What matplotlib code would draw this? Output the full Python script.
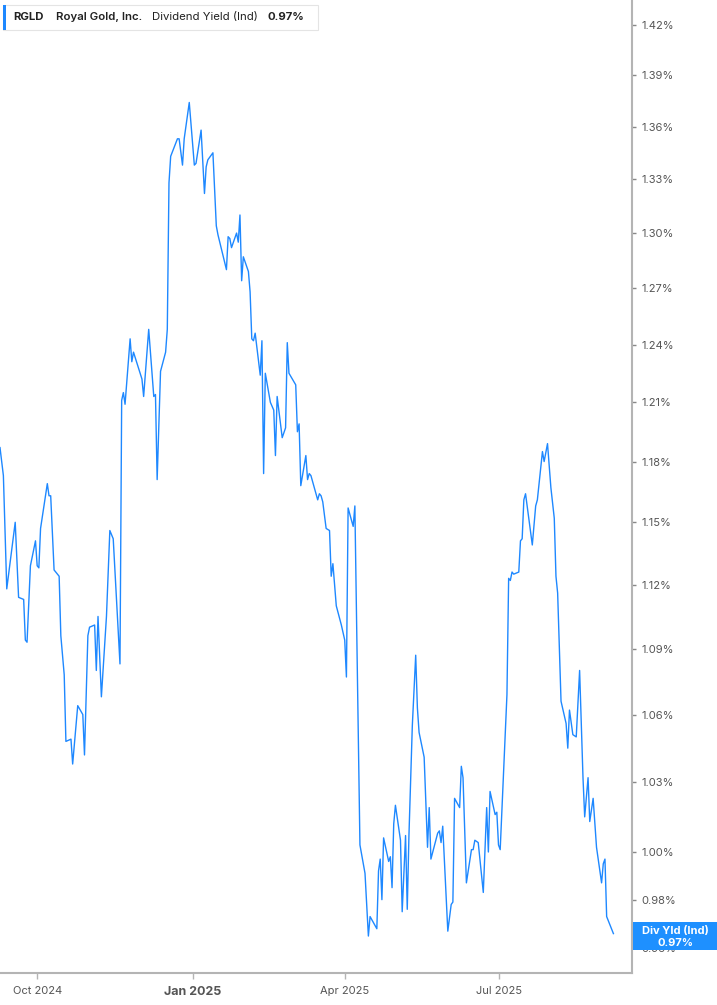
import matplotlib
matplotlib.use("Agg")
import matplotlib.pyplot as plt
import matplotlib.ticker as mticker
from matplotlib.patches import Rectangle
import pandas as pd

plt.rcParams["font.family"] = ["Inter", "DejaVu Sans"]

ticker_symbol = "RGLD"
company_name = "Royal Gold, Inc."
metric_name = "Dividend Yield (Ind)"
metric_short = "Div Yld (Ind)"
last_value_text = "0.97%"

dates = [
    "2024-09-09", "2024-09-11", "2024-09-13", "2024-09-18", "2024-09-20", "2024-09-23",
    "2024-09-24", "2024-09-25", "2024-09-27", "2024-09-30", "2024-10-01", "2024-10-02",
    "2024-10-03", "2024-10-07", "2024-10-08", "2024-10-09", "2024-10-11", "2024-10-14",
    "2024-10-15", "2024-10-17", "2024-10-18", "2024-10-21", "2024-10-22", "2024-10-25",
    "2024-10-28", "2024-10-29", "2024-10-31", "2024-11-01", "2024-11-04", "2024-11-05",
    "2024-11-06", "2024-11-08", "2024-11-11", "2024-11-13", "2024-11-15", "2024-11-19",
    "2024-11-20", "2024-11-21", "2024-11-22", "2024-11-25", "2024-11-26", "2024-11-27",
    "2024-12-02", "2024-12-03", "2024-12-06", "2024-12-09", "2024-12-10", "2024-12-11",
    "2024-12-13", "2024-12-16", "2024-12-17", "2024-12-18", "2024-12-19", "2024-12-23",
    "2024-12-24", "2024-12-26", "2024-12-27", "2024-12-30", "2025-01-02", "2025-01-03",
    "2025-01-06", "2025-01-08", "2025-01-09", "2025-01-10", "2025-01-13", "2025-01-15",
    "2025-01-16", "2025-01-21", "2025-01-22", "2025-01-23", "2025-01-24", "2025-01-27",
    "2025-01-28", "2025-01-29", "2025-01-30", "2025-01-31", "2025-02-03", "2025-02-04",
    "2025-02-05", "2025-02-06", "2025-02-07", "2025-02-10", "2025-02-11", "2025-02-12",
    "2025-02-13", "2025-02-16", "2025-02-18", "2025-02-19", "2025-02-20", "2025-02-23",
    "2025-02-25", "2025-02-26", "2025-02-27", "2025-03-03", "2025-03-04", "2025-03-05",
    "2025-03-06", "2025-03-09", "2025-03-10", "2025-03-11", "2025-03-12", "2025-03-14",
    "2025-03-16", "2025-03-17", "2025-03-18", "2025-03-19", "2025-03-21", "2025-03-23",
    "2025-03-24", "2025-03-25", "2025-03-27", "2025-03-30", "2025-04-01", "2025-04-02",
    "2025-04-03", "2025-04-06", "2025-04-07", "2025-04-10", "2025-04-13", "2025-04-15",
    "2025-04-16", "2025-04-20", "2025-04-21", "2025-04-22", "2025-04-23", "2025-04-24",
    "2025-04-27", "2025-04-28", "2025-04-29", "2025-04-30", "2025-05-01", "2025-05-04",
    "2025-05-05", "2025-05-07", "2025-05-08", "2025-05-09", "2025-05-11", "2025-05-13",
    "2025-05-14", "2025-05-15", "2025-05-18", "2025-05-20", "2025-05-21", "2025-05-22",
    "2025-05-26", "2025-05-27", "2025-05-28", "2025-05-29", "2025-06-01", "2025-06-03",
    "2025-06-04", "2025-06-05", "2025-06-08", "2025-06-09", "2025-06-10", "2025-06-12",
    "2025-06-15", "2025-06-16", "2025-06-17", "2025-06-19", "2025-06-22", "2025-06-24",
    "2025-06-25", "2025-06-26", "2025-06-29", "2025-06-30", "2025-07-01", "2025-07-02",
    "2025-07-06", "2025-07-07", "2025-07-08", "2025-07-09", "2025-07-10", "2025-07-13",
    "2025-07-14", "2025-07-15", "2025-07-16", "2025-07-17", "2025-07-21", "2025-07-23",
    "2025-07-24", "2025-07-27", "2025-07-28", "2025-07-30", "2025-08-01", "2025-08-03",
    "2025-08-04", "2025-08-05", "2025-08-07", "2025-08-10", "2025-08-11", "2025-08-12",
    "2025-08-14", "2025-08-16", "2025-08-18", "2025-08-20", "2025-08-21", "2025-08-23",
    "2025-08-24", "2025-08-26", "2025-08-28", "2025-08-31", "2025-09-01", "2025-09-02",
    "2025-09-03", "2025-09-07",
]

yield_pct = [
    1.187, 1.173, 1.118, 1.150, 1.114, 1.113,
    1.094, 1.093, 1.129, 1.141, 1.129, 1.128,
    1.147, 1.169, 1.163, 1.163, 1.127, 1.124,
    1.096, 1.078, 1.048, 1.049, 1.038, 1.064,
    1.060, 1.042, 1.096, 1.100, 1.101, 1.080,
    1.105, 1.068, 1.105, 1.146, 1.142, 1.083,
    1.211, 1.215, 1.209, 1.243, 1.231, 1.236,
    1.222, 1.213, 1.248, 1.213, 1.214, 1.171,
    1.226, 1.236, 1.248, 1.328, 1.343, 1.353,
    1.353, 1.338, 1.353, 1.374, 1.338, 1.339,
    1.358, 1.322, 1.337, 1.341, 1.345, 1.304,
    1.299, 1.280, 1.298, 1.297, 1.292, 1.300,
    1.295, 1.310, 1.274, 1.287, 1.279, 1.268,
    1.243, 1.242, 1.246, 1.224, 1.242, 1.174,
    1.225, 1.210, 1.206, 1.183, 1.213, 1.192,
    1.197, 1.241, 1.225, 1.219, 1.195, 1.199,
    1.168, 1.183, 1.171, 1.174, 1.173, 1.167,
    1.161, 1.164, 1.163, 1.160, 1.147, 1.146,
    1.124, 1.130, 1.110, 1.101, 1.094, 1.077,
    1.157, 1.148, 1.158, 1.003, 0.991, 0.965,
    0.973, 0.968, 0.992, 0.997, 0.980, 1.006,
    0.996, 0.998, 0.985, 1.012, 1.020, 1.005,
    0.975, 1.007, 0.976, 1.007, 1.055, 1.087,
    1.063, 1.052, 1.041, 1.002, 1.019, 0.997,
    1.008, 1.009, 1.004, 1.011, 0.967, 0.978,
    0.979, 1.023, 1.019, 1.037, 1.032, 0.987,
    1.001, 1.001, 1.005, 1.004, 0.983, 1.019,
    1.000, 1.026, 1.016, 1.017, 1.003, 1.001,
    1.069, 1.123, 1.122, 1.126, 1.125, 1.126,
    1.141, 1.142, 1.161, 1.164, 1.139, 1.158,
    1.161, 1.185, 1.180, 1.189, 1.167, 1.152,
    1.124, 1.116, 1.066, 1.056, 1.045, 1.062,
    1.051, 1.050, 1.080, 1.032, 1.015, 1.032,
    1.013, 1.023, 1.002, 0.987, 0.995, 0.997,
    0.973, 0.966,
]

y_ticks = [0.96, 0.98, 1.00, 1.03, 1.06, 1.09, 1.12, 1.15, 1.18, 1.21, 1.24, 1.27, 1.30, 1.33, 1.36, 1.39, 1.42]
x_ticks = ["2024-10-01", "2025-01-01", "2025-04-01", "2025-07-01"]
x_tick_labels = ["Oct 2024", "Jan 2025", "Apr 2025", "Jul 2025"]

line_blue = "#1e88ff"
axis_gray = "#b4b4b4"
text_gray = "#555555"

W, H = 717, 1005
fig = plt.figure(figsize=(W / 100, H / 100), dpi=100)
ax = fig.add_axes([0, 1 - 973 / H, 632 / W, 973 / H])

ax.plot(pd.to_datetime(dates), yield_pct, color=line_blue, lw=1.0)

ax.set_yscale("log")
ax.set_ylim(0.95, 1.435)
ax.set_xlim(pd.Timestamp("2024-09-09"), pd.Timestamp("2025-09-18"))

ax.yaxis.tick_right()
ax.yaxis.set_major_locator(mticker.FixedLocator(y_ticks))
ax.yaxis.set_major_formatter(mticker.FuncFormatter(lambda v, p: f"{v:.2f}%"))
ax.yaxis.set_minor_locator(mticker.NullLocator())
ax.tick_params(axis="y", direction="out", length=3, width=1, color="#888888",
               labelsize=8, labelcolor=text_gray, pad=4)

ax.set_xticks(pd.to_datetime(x_ticks))
ax.set_xticklabels(x_tick_labels)
ax.xaxis.set_minor_locator(mticker.NullLocator())
ax.tick_params(axis="x", direction="out", length=4, width=1, color=axis_gray,
               labelsize=8, labelcolor=text_gray, pad=5)
for lbl in ax.get_xticklabels():
    if lbl.get_text().startswith("Jan"):
        lbl.set_fontweight("bold")
        lbl.set_fontsize(9)

for side in ["top", "left"]:
    ax.spines[side].set_visible(False)
for side in ["right", "bottom"]:
    ax.spines[side].set_color(axis_gray)
    ax.spines[side].set_linewidth(1.5)

# legend box, top left
def fx(px):
    return px / W

def fy(py):
    return 1 - py / H

fig.patches.append(Rectangle((fx(3), fy(30)), fx(315), 25 / H, transform=fig.transFigure,
                             facecolor="white", edgecolor="#e4e4e4", lw=0.8, zorder=5))
fig.patches.append(Rectangle((fx(3), fy(30)), fx(3), 25 / H, transform=fig.transFigure,
                             facecolor=line_blue, edgecolor="none", zorder=6))
legend_parts = [
    (13, ticker_symbol, "bold"),
    (56, company_name, "semibold"),
    (152, metric_name, "normal"),
    (268, last_value_text, "bold"),
]
for px, txt, weight in legend_parts:
    fig.text(fx(px), fy(17), txt, fontsize=8.2, fontweight=weight, color="#222222",
             va="center", ha="left", zorder=7)

# last value badge on the right axis
fig.patches.append(Rectangle((fx(633), fy(950)), fx(84), 28 / H, transform=fig.transFigure,
                             facecolor="#1e90ff", edgecolor="none", zorder=5))
fig.text(fx(675), fy(931), metric_short, fontsize=8, fontweight="bold", color="white",
         ha="center", va="center", zorder=7)
fig.text(fx(675), fy(943), last_value_text, fontsize=8, fontweight="bold", color="white",
         ha="center", va="center", zorder=7)

fig.savefig("out.png", dpi=100)
